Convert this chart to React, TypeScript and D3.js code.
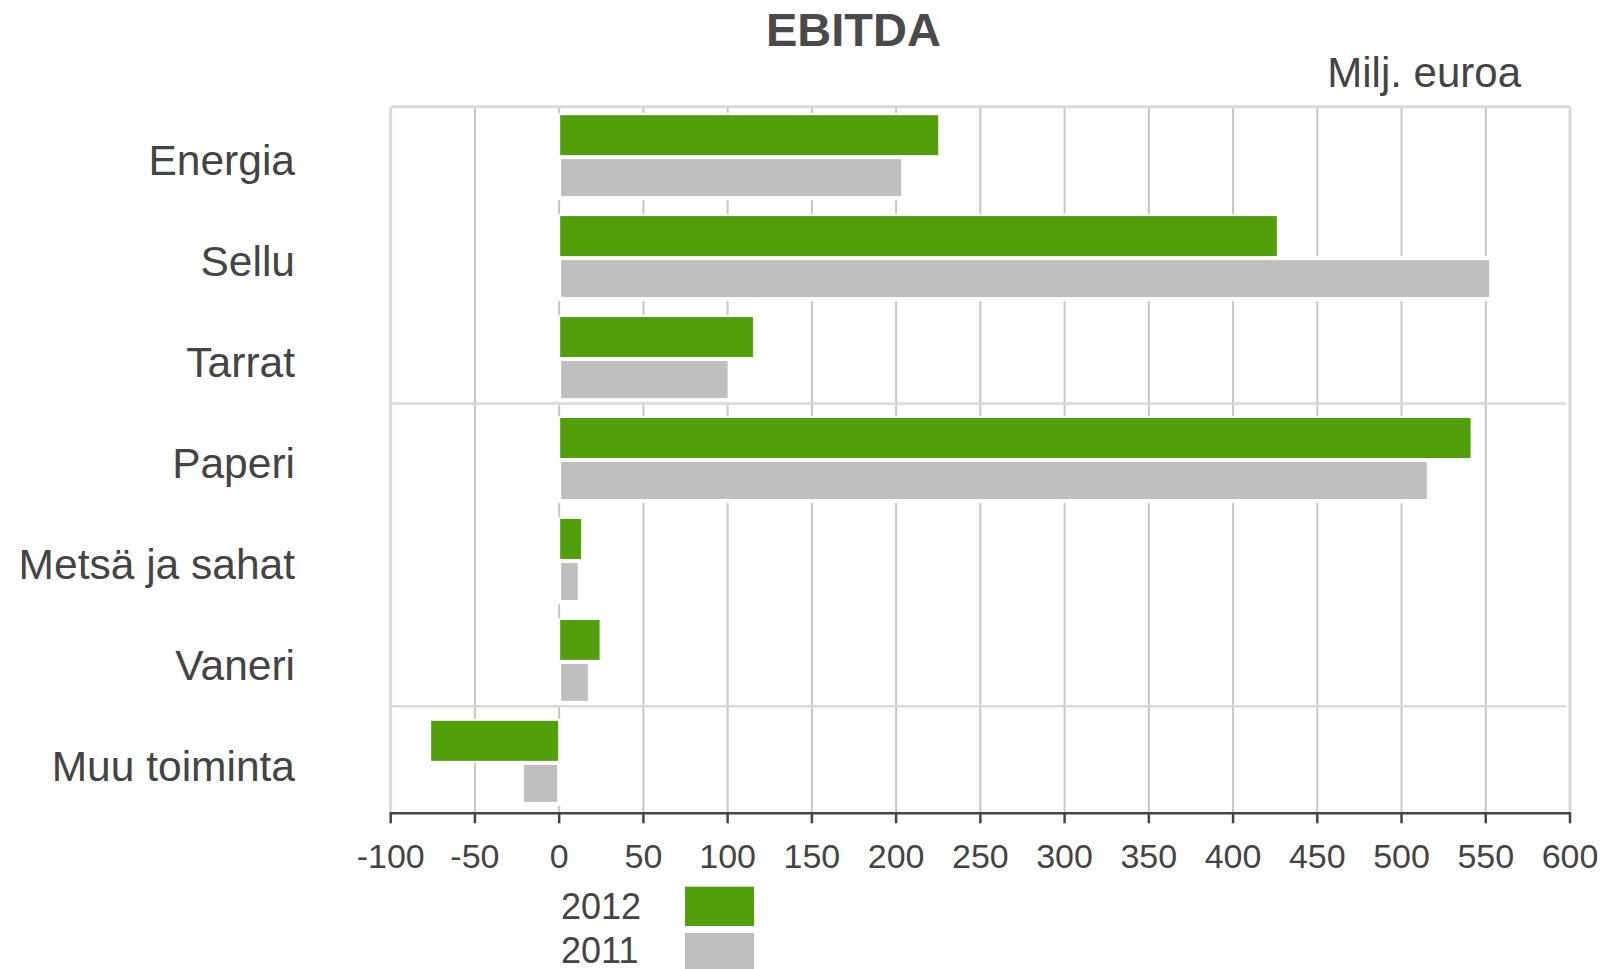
import React from "react";
import * as d3 from "d3";

const categories = ["Energia", "Sellu", "Tarrat", "Paperi", "Metsä ja sahat", "Vaneri", "Muu toiminta"];
const values2012 = [225, 426, 115, 541, 13, 24, -76];
const values2011 = [203, 552, 100, 515, 11, 17, -21];
const ticks = [-100, -50, 0, 50, 100, 150, 200, 250, 300, 350, 400, 450, 500, 550, 600];
const seriesNames = ["2012", "2011"];
const colors = ["#529f0c", "#bfbfbf"];
const separatorsBefore = ["Paperi", "Muu toiminta"];

const W = 1616;
const H = 969;
const FONT = "'Liberation Sans', Arial, Helvetica, sans-serif";
const TEXT = "#444444";

export default function App() {
  const x = d3.scaleLinear().domain([-100, 600]).range([390.7, 1570]);
  const y = d3.scaleBand<string>().domain(categories).range([106.7, 813.3]).paddingInner(0).paddingOuter(0);
  const top = 106.7;
  const bottom = 813.3;
  const x0 = x(0);

  const greenRect = (v: number, c: number) => {
    const xv = x(v);
    const lo = v >= 0 ? x0 : xv - 1;
    const hi = v >= 0 ? xv + 1 : x0;
    return { x: lo, y: c - 42, width: Math.max(0, hi - lo), height: 42 };
  };
  const grayRect = (v: number, c: number) => {
    const xv = x(v);
    const lo = v >= 0 ? x0 : xv - 2;
    const hi = v >= 0 ? xv + 2 : x0;
    return { x: lo, y: c + 1, width: Math.max(0, hi - lo), height: 41 };
  };

  return (
    <svg
      width={W}
      height={H}
      style={{ position: "absolute", left: 0, top: 0, background: "#fff" }}
      fontFamily={FONT}
    >
      <rect x={0} y={0} width={W} height={H} fill="#fff" />
      {/* title */}
      <text x={853.5} y={46} textAnchor="middle" fontSize={47} fontWeight="bold" fill="#4a4a4a">
        EBITDA
      </text>
      <text x={1521} y={87.3} textAnchor="end" fontSize={42} fill={TEXT}>
        Milj. euroa
      </text>

      {/* gridlines */}
      {ticks.filter((t) => t > -100 && t < 600).map((t) => (
        <line key={"g" + t} x1={x(t)} x2={x(t)} y1={top} y2={bottom} stroke="#c6c6c6" strokeWidth={2} />
      ))}
      {/* frame */}
      <line x1={x(-100)} x2={x(-100)} y1={top} y2={bottom} stroke="#d9d9d9" strokeWidth={3} />
      <line x1={x(600)} x2={x(600)} y1={top} y2={bottom} stroke="#d9d9d9" strokeWidth={3} />
      <line x1={x(-100)} x2={x(600)} y1={top} y2={top} stroke="#d9d9d9" strokeWidth={3} />
      {/* separators */}
      {separatorsBefore.map((cat) => (
        <line key={"s" + cat} x1={x(-100)} x2={1566} y1={(y(cat) as number) - 6} y2={(y(cat) as number) - 6} stroke="#d9d9d9" strokeWidth={2.5} />
      ))}

      {/* bars */}
      {categories.map((cat, i) => {
        const c = (y(cat) as number) + y.bandwidth() / 2 - 1;
        const g = greenRect(values2012[i], c);
        const s = grayRect(values2011[i], c);
        return (
          <g key={cat}>
            <rect {...s} fill={colors[1]} stroke="#fff" strokeWidth={4} />
            <rect {...g} fill={colors[0]} stroke="#fff" strokeWidth={2} />
          </g>
        );
      })}

      {/* category labels */}
      {categories.map((cat) => (
        <text
          key={"l" + cat}
          x={295}
          y={(y(cat) as number) + y.bandwidth() / 2 + 18}
          textAnchor="end"
          fontSize={42.5}
          fill={TEXT}
        >
          {cat}
        </text>
      ))}

      {/* x axis */}
      <line x1={x(-100) - 1} x2={x(600) + 1} y1={bottom} y2={bottom} stroke="#444" strokeWidth={2.5} />
      {ticks.map((t) => (
        <g key={"t" + t}>
          <line x1={x(t)} x2={x(t)} y1={bottom} y2={bottom + 10} stroke="#444" strokeWidth={2.5} />
          <text x={x(t)} y={868} textAnchor="middle" fontSize={34} fill={TEXT}>
            {t}
          </text>
        </g>
      ))}

      {/* legend */}
      {seriesNames.map((name, i) => (
        <g key={"lg" + name}>
          <text x={561} y={919 + i * 44} fontSize={36} fill={TEXT}>
            {name}
          </text>
          <rect x={685} y={886.7 + i * 46.3} width={69} height={39.3} fill={colors[i]} />
        </g>
      ))}
    </svg>
  );
}
